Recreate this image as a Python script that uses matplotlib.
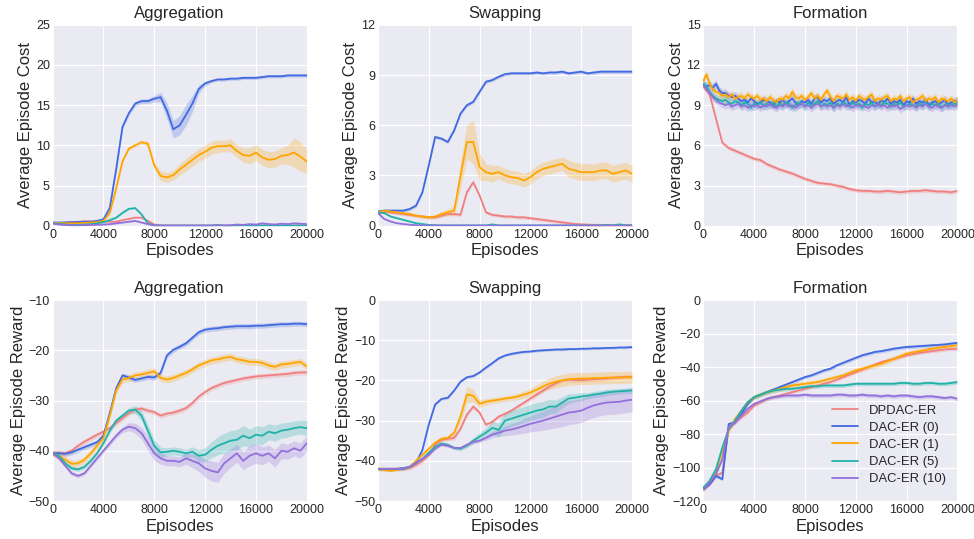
import numpy as np
import matplotlib
matplotlib.use('Agg')
from matplotlib import pyplot as plt

# episodes (x) for the coarse and the fine sampled curves
EP = np.arange(0, 20001, 500)
EP_FINE = np.arange(0, 20001, 250)

labels = ['DPDAC-ER', 'DAC-ER (0)', 'DAC-ER (1)', 'DAC-ER (5)', 'DAC-ER (10)']
colors = ['#F08080', '#4169E1', '#FFA500', '#20B2AA', '#9370DB']
titles = ['Aggregation', 'Swapping', 'Formation']

# ---- Aggregation cost
agg_cost_dpdac = [0.3, 0.35, 0.4, 0.45, 0.5, 0.55, 0.55, 0.5, 0.5, 0.5,
                  0.5, 0.7, 0.85, 1.0, 1.0, 0.6, 0.15, 0.05, 0.02, 0.02,
                  0.02, 0.02, 0.02, 0.02, 0.02, 0.02, 0.02, 0.02, 0.02, 0.02,
                  0.02, 0.02, 0.02, 0.02, 0.02, 0.02, 0.02, 0.02, 0.02, 0.02, 0.02]
agg_cost_dac0 = [0.4, 0.4, 0.4, 0.45, 0.45, 0.5, 0.5, 0.6, 0.8, 2.2,
                 7.0, 12.3, 14.0, 15.2, 15.5, 15.5, 15.8, 16.0, 14.3, 12.0,
                 12.5, 13.8, 15.2, 17.0, 17.7, 18.0, 18.2, 18.2, 18.3, 18.3,
                 18.4, 18.4, 18.4, 18.5, 18.6, 18.6, 18.6, 18.7, 18.7, 18.7, 18.7]
agg_cost_dac1 = [0.3, 0.35, 0.3, 0.3, 0.3, 0.35, 0.4, 0.45, 0.6, 1.6,
                 4.6, 8.0, 9.6, 10.0, 10.4, 10.2, 7.5, 6.2, 6.0, 6.3,
                 7.0, 7.6, 8.2, 8.8, 9.2, 9.7, 9.9, 9.9, 10.0, 9.3,
                 8.8, 8.7, 9.1, 8.5, 8.2, 8.3, 8.7, 8.8, 9.1, 8.6, 8.0]
agg_cost_dac5 = [0.3, 0.25, 0.15, 0.1, 0.1, 0.15, 0.2, 0.3, 0.45, 0.7,
                 1.0, 1.6, 2.1, 2.2, 1.4, 0.3, 0.05, 0.02, 0.02, 0.02,
                 0.02, 0.02, 0.02, 0.02, 0.02, 0.02, 0.1, 0.02, 0.02, 0.02,
                 0.02, 0.02, 0.02, 0.02, 0.02, 0.02, 0.02, 0.02, 0.02, 0.02, 0.02]
agg_cost_dac10 = [0.3, 0.15, 0.1, 0.05, 0.05, 0.08, 0.1, 0.12, 0.15, 0.2,
                  0.3, 0.4, 0.5, 0.6, 0.4, 0.2, 0.05, 0.02, 0.02, 0.02,
                  0.02, 0.02, 0.02, 0.02, 0.02, 0.02, 0.05, 0.02, 0.05, 0.15,
                  0.1, 0.2, 0.15, 0.3, 0.2, 0.15, 0.25, 0.2, 0.3, 0.25, 0.2]
agg_cost_band0 = [0.1, 0.1, 0.1, 0.1, 0.1, 0.1, 0.1, 0.1, 0.1, 0.2,
                  0.3, 0.3, 0.3, 0.3, 0.3, 0.3, 0.4, 0.6, 1.0, 1.1,
                  1.2, 1.3, 1.0, 0.5, 0.3, 0.2, 0.2, 0.2, 0.2, 0.2,
                  0.2, 0.2, 0.2, 0.2, 0.2, 0.2, 0.2, 0.2, 0.2, 0.2, 0.2]
agg_cost_band1 = [0.1, 0.1, 0.1, 0.1, 0.1, 0.1, 0.1, 0.1, 0.1, 0.2,
                  0.2, 0.2, 0.2, 0.2, 0.2, 0.3, 0.4, 0.6, 0.6, 0.6,
                  0.7, 0.8, 0.8, 0.8, 0.8, 0.8, 0.8, 0.7, 0.8, 0.8,
                  0.9, 1.0, 1.0, 1.0, 1.0, 1.0, 1.0, 1.2, 1.8, 1.8, 1.5]

# ---- Swapping cost
swap_cost_dpdac = [0.75, 0.85, 0.8, 0.75, 0.7, 0.65, 0.6, 0.55, 0.5, 0.5,
                   0.6, 0.7, 0.7, 0.65, 2.0, 2.6, 1.8, 0.8, 0.65, 0.6,
                   0.55, 0.55, 0.5, 0.5, 0.45, 0.4, 0.35, 0.3, 0.25, 0.2,
                   0.15, 0.1, 0.08, 0.06, 0.05, 0.04, 0.03, 0.03, 0.02, 0.02, 0.02]
swap_cost_dac0 = [0.85, 0.9, 0.9, 0.9, 0.9, 1.0, 1.2, 2.0, 3.6, 5.3,
                  5.2, 5.0, 5.7, 6.7, 7.2, 7.4, 8.0, 8.6, 8.7, 8.9,
                  9.05, 9.1, 9.1, 9.1, 9.1, 9.15, 9.1, 9.15, 9.15, 9.2,
                  9.1, 9.15, 9.2, 9.1, 9.15, 9.2, 9.2, 9.2, 9.2, 9.2, 9.2]
swap_cost_dac1 = [0.8, 0.9, 0.85, 0.8, 0.75, 0.7, 0.6, 0.55, 0.5, 0.55,
                  0.7, 0.8, 0.9, 3.0, 5.0, 5.0, 3.5, 3.2, 3.1, 3.2,
                  3.0, 2.9, 2.85, 2.7, 2.9, 3.2, 3.4, 3.5, 3.6, 3.7,
                  3.4, 3.3, 3.2, 3.2, 3.2, 3.3, 3.3, 3.1, 3.2, 3.3, 3.1]
swap_cost_dac5 = [0.8, 0.75, 0.55, 0.45, 0.35, 0.25, 0.15, 0.1, 0.05, 0.03,
                  0.02, 0.02, 0.02, 0.02, 0.02, 0.02, 0.02, 0.02, 0.08, 0.02,
                  0.02, 0.02, 0.02, 0.02, 0.02, 0.02, 0.02, 0.02, 0.02, 0.02,
                  0.02, 0.02, 0.02, 0.02, 0.02, 0.02, 0.05, 0.02, 0.08, 0.03, 0.03]
swap_cost_dac10 = [0.75, 0.4, 0.25, 0.15, 0.1, 0.06, 0.03, 0.02, 0.01, 0.01,
                   0.01, 0.01, 0.01, 0.01, 0.01, 0.01, 0.01, 0.01, 0.01, 0.01,
                   0.01, 0.01, 0.01, 0.01, 0.01, 0.01, 0.01, 0.01, 0.01, 0.01,
                   0.01, 0.01, 0.01, 0.01, 0.01, 0.01, 0.01, 0.01, 0.01, 0.01, 0.01]
swap_cost_band1 = [0.1, 0.1, 0.1, 0.1, 0.1, 0.1, 0.1, 0.1, 0.1, 0.1,
                   0.15, 0.2, 0.3, 0.8, 1.0, 1.3, 0.8, 0.5, 0.5, 0.4,
                   0.4, 0.4, 0.4, 0.4, 0.4, 0.4, 0.4, 0.4, 0.4, 0.4,
                   0.5, 0.5, 0.5, 0.5, 0.5, 0.5, 0.5, 0.5, 0.5, 0.5, 0.5]

# ---- Formation cost (dac curves are sampled finer, they are very noisy)
form_cost_dpdac = [10.4, 9.8, 8.0, 6.2, 5.8, 5.6, 5.4, 5.2, 5.0, 4.9,
                   4.6, 4.4, 4.2, 4.05, 3.9, 3.7, 3.5, 3.35, 3.2, 3.15,
                   3.1, 3.0, 2.9, 2.75, 2.65, 2.6, 2.6, 2.55, 2.55, 2.6,
                   2.55, 2.5, 2.55, 2.6, 2.6, 2.65, 2.6, 2.55, 2.55, 2.5, 2.6]
form_cost_dac0 = [10.5, 10.4, 10.5, 10.3, 10.6, 10.1, 9.9, 9.9, 9.7, 9.6,
                  9.7, 9.5, 9.3, 9.4, 9.2, 9.5, 9.3, 9.1, 9.2, 9.4,
                  9.3, 9.2, 9.0, 9.3, 9.2, 9.4, 9.1, 9.3, 9.5, 9.2,
                  9.0, 9.3, 9.2, 9.4, 9.1, 9.5, 9.6, 9.2, 9.4, 9.3,
                  9.5, 9.1, 9.3, 9.4, 9.2, 9.6, 9.0, 9.3, 9.2, 9.4,
                  9.3, 9.1, 9.5, 9.2, 9.3, 9.0, 9.4, 9.2, 9.5, 9.1,
                  9.3, 9.2, 9.4, 9.0, 9.3, 9.2, 9.5, 9.1, 9.3, 9.2,
                  9.4, 9.0, 9.2, 9.3, 9.1, 9.2, 9.4, 9.0, 9.2, 9.3, 9.3]
form_cost_dac1 = [10.8, 11.3, 10.6, 10.2, 10.0, 9.9, 9.7, 9.8, 9.6, 9.8,
                  9.5, 9.6, 9.7, 9.5, 9.8, 9.6, 9.5, 9.7, 9.4, 9.5,
                  9.3, 9.6, 9.4, 9.2, 9.5, 9.4, 9.7, 9.5, 10.0, 9.6,
                  9.5, 9.7, 9.4, 9.6, 9.9, 9.5, 9.7, 9.4, 9.8, 10.1,
                  9.6, 9.3, 9.7, 9.6, 9.5, 9.8, 9.4, 9.6, 9.3, 9.7,
                  9.5, 9.4, 9.6, 9.8, 9.3, 9.5, 9.4, 9.6, 9.7, 9.3,
                  9.5, 9.4, 9.7, 9.3, 9.5, 9.6, 9.2, 9.4, 9.5, 9.7,
                  9.3, 9.5, 9.4, 9.6, 9.2, 9.5, 9.4, 9.3, 9.5, 9.2, 9.4]
form_cost_dac5 = [10.6, 10.4, 10.0, 9.7, 9.5, 9.4, 9.3, 9.4, 9.2, 9.1,
                  9.3, 9.2, 9.0, 9.2, 9.1, 8.8, 9.1, 9.0, 9.2, 8.9,
                  9.1, 9.0, 9.2, 8.9, 9.1, 9.0, 9.2, 9.1, 8.8, 9.0,
                  9.2, 9.1, 8.9, 9.2, 9.0, 9.1, 9.3, 8.9, 9.1, 9.0,
                  9.2, 8.8, 9.1, 9.0, 9.2, 9.1, 8.9, 9.2, 9.0, 9.1,
                  8.8, 9.1, 9.0, 9.2, 8.9, 9.1, 9.0, 9.2, 9.1, 8.9,
                  9.1, 9.0, 9.2, 8.9, 9.0, 9.1, 9.0, 8.9, 9.1, 9.0,
                  9.2, 8.9, 9.1, 9.0, 9.1, 8.8, 9.0, 9.1, 9.0, 9.1, 9.1]
form_cost_dac10 = [10.5, 10.2, 9.9, 9.6, 9.4, 9.2, 9.1, 9.0, 9.1, 8.9,
                   9.0, 9.1, 8.9, 9.0, 8.8, 9.0, 8.9, 9.0, 8.8, 9.0,
                   8.9, 9.1, 8.9, 8.8, 9.0, 8.9, 9.1, 8.9, 9.0, 8.8,
                   9.0, 9.1, 8.9, 9.0, 8.8, 9.0, 9.1, 8.9, 9.0, 8.9,
                   9.0, 8.8, 9.0, 8.9, 9.1, 8.9, 9.0, 8.8, 9.0, 8.9,
                   9.0, 8.9, 8.8, 9.0, 8.9, 9.1, 8.9, 9.0, 8.8, 9.0,
                   8.9, 9.0, 8.7, 8.9, 9.0, 8.9, 9.0, 8.8, 9.0, 8.9,
                   9.1, 8.9, 8.8, 9.0, 8.9, 8.8, 9.0, 8.9, 9.0, 8.9, 9.0]

# ---- Aggregation reward
agg_rew_dpdac = [-40.5, -40.4, -40.5, -40, -39, -38.2, -37.5, -36.8, -36.2, -35.5,
                 -34.5, -33.5, -32.5, -31.8, -31.6, -32, -32.3, -33, -32.6, -32.4,
                 -32, -31.5, -30.5, -29.2, -28.3, -27.5, -27, -26.5, -26.2, -25.9,
                 -25.6, -25.4, -25.2, -25.1, -25, -24.9, -24.8, -24.7, -24.5, -24.4, -24.4]
agg_rew_dac0 = [-40.5, -40.5, -40.6, -40.3, -39.8, -39.3, -38.8, -38.3, -37.0, -32.5,
                -27.6, -25.0, -25.4, -25.9, -25.6, -25.3, -25.4, -24.5, -21.0, -19.9,
                -19.3, -18.6, -17.5, -16.4, -15.9, -15.7, -15.6, -15.4, -15.3, -15.2,
                -15.2, -15.2, -15.1, -15.1, -15.0, -14.9, -14.8, -14.8, -14.7, -14.7, -14.8]
agg_rew_dac1 = [-40.5, -41, -41.8, -42.6, -42.5, -41.8, -40.5, -39, -37.5, -33,
                -28, -25.8, -25.5, -25, -24.8, -24.5, -24.2, -25.5, -25.8, -25.5,
                -25, -24.5, -23.8, -23, -22.5, -22, -21.8, -21.5, -21.3, -21.8,
                -22, -22.3, -22.3, -22.5, -23, -23.3, -22.8, -22.7, -22.5, -22.3, -23.2]
agg_rew_dac5 = [-40.5, -41, -42.5, -43.5, -43.7, -43.2, -42, -40.5, -38.5, -36,
                -34, -33, -32, -31.8, -33, -36, -39, -40.3, -40.2, -40,
                -40.2, -40.5, -40.2, -41, -40.8, -39.8, -39, -38.5, -38, -37.8,
                -37, -37.5, -36.8, -37, -36.2, -36.5, -36, -35.8, -35.5, -35.3, -35.5]
agg_rew_dac10 = [-40.5, -41.5, -43, -44.5, -45, -44.5, -43, -41.5, -40, -38.5,
                 -37, -35.8, -35.2, -35.5, -36.5, -38.5, -40.5, -41.5, -42, -42,
                 -42.2, -41.5, -42, -42.5, -43.5, -44, -44.3, -42.5, -41.5, -40.5,
                 -42, -41, -40.5, -41, -40.5, -41.5, -40, -40.2, -39.5, -40, -38.5]
agg_rew_band5 = [0.3, 0.3, 0.4, 0.4, 0.4, 0.4, 0.4, 0.4, 0.4, 0.5,
                 0.5, 0.5, 0.6, 0.8, 1.0, 1.2, 1.2, 1.0, 0.8, 0.8,
                 0.8, 0.8, 1.0, 1.2, 1.4, 1.6, 1.8, 2.0, 2.0, 2.0,
                 2.0, 1.8, 1.8, 1.8, 1.6, 1.6, 1.5, 1.5, 1.4, 1.4, 1.5]
agg_rew_band10 = [0.3, 0.3, 0.4, 0.4, 0.4, 0.4, 0.4, 0.4, 0.4, 0.5,
                  0.5, 0.6, 0.8, 1.0, 1.2, 1.4, 1.4, 1.2, 1.0, 1.0,
                  1.0, 1.2, 1.4, 1.6, 1.8, 2.0, 2.0, 2.0, 1.8, 1.8,
                  1.8, 2.0, 2.0, 1.8, 1.6, 1.8, 1.6, 1.5, 1.5, 1.5, 1.5]

# ---- Swapping reward
swap_rew_dpdac = [-42, -42, -42, -42, -42, -41.8, -41, -40, -38.5, -36,
                  -34.8, -34.5, -34.3, -32, -28.5, -26.5, -28, -31, -30.3, -29,
                  -28.3, -27.5, -26.5, -25.5, -24.5, -23.5, -22.5, -21.5, -20.7, -20,
                  -19.8, -19.9, -19.9, -19.8, -19.7, -19.6, -19.5, -19.3, -19.2, -19.1, -19.1]
swap_rew_dac0 = [-42, -42.1, -42.2, -42, -41.8, -41.5, -40.5, -37.3, -31, -26,
                 -24.6, -24.3, -22.5, -20.3, -19.2, -18.9, -18, -16.8, -15.7, -14.5,
                 -13.8, -13.4, -13.1, -12.9, -12.8, -12.6, -12.5, -12.4, -12.3, -12.3,
                 -12.2, -12.2, -12.1, -12.1, -12.0, -12.0, -11.9, -11.9, -11.8, -11.8, -11.7]
swap_rew_dac1 = [-42, -42.3, -42.5, -42.2, -42, -41.5, -40, -38.5, -37, -35.5,
                 -34.5, -34.3, -33, -29, -23.5, -23.8, -25.8, -25.3, -25, -24.8,
                 -24.5, -24.3, -24, -23.5, -23, -22.3, -21.5, -20.8, -20.3, -20,
                 -19.7, -19.6, -19.5, -19.5, -19.4, -19.4, -19.3, -19.3, -19.3, -19.2, -19.2]
swap_rew_dac5 = [-42, -42, -42, -42, -42, -41.5, -40.5, -39.5, -38, -36.5,
                 -35.7, -36, -36.8, -37, -36.2, -35, -34, -33, -31.8, -32.3,
                 -30, -29.5, -29, -28.5, -28, -27.5, -27.2, -26.5, -26.5, -25.5,
                 -24.5, -24.3, -24, -23.8, -23.5, -23.3, -23, -22.8, -22.7, -22.6, -22.5]
swap_rew_dac10 = [-42, -42, -42, -42, -42, -41.5, -40.5, -39.5, -38.5, -37,
                  -36, -36.3, -36.8, -36.8, -36, -35.3, -35, -34.3, -33.5, -33,
                  -32.5, -32.2, -31.8, -31.3, -30.8, -30.4, -30, -29.5, -29, -28.5,
                  -28, -27.8, -27.5, -26.8, -26.2, -25.8, -25.5, -25.4, -25.3, -25, -24.8]
swap_rew_band1 = [0.3, 0.3, 0.3, 0.3, 0.3, 0.3, 0.3, 0.4, 0.5, 0.5,
                  0.5, 0.6, 0.8, 1.5, 2.0, 1.5, 1.0, 0.8, 0.7, 0.7,
                  0.7, 0.7, 0.8, 0.9, 1.0, 1.2, 1.3, 1.4, 1.5, 1.5,
                  1.5, 1.5, 1.5, 1.5, 1.5, 1.5, 1.5, 1.5, 1.5, 1.5, 1.5]
swap_rew_band5 = [0.3, 0.3, 0.3, 0.3, 0.3, 0.3, 0.3, 0.3, 0.3, 0.4,
                  0.4, 0.4, 0.5, 0.5, 0.6, 0.8, 1.0, 1.2, 1.5, 1.8,
                  2.0, 2.0, 2.0, 2.0, 2.0, 2.0, 2.0, 1.8, 1.6, 1.4,
                  1.2, 1.0, 1.0, 0.8, 0.8, 0.8, 0.8, 0.7, 0.7, 0.7, 0.7]
swap_rew_band10 = [0.3, 0.3, 0.3, 0.3, 0.3, 0.3, 0.3, 0.3, 0.3, 0.3,
                   0.3, 0.3, 0.3, 0.3, 0.4, 0.4, 0.5, 0.6, 0.8, 1.0,
                   1.2, 1.4, 1.6, 1.8, 2.0, 2.2, 2.4, 2.6, 2.8, 3.0,
                   3.0, 3.0, 3.0, 3.0, 3.0, 3.0, 3.0, 3.0, 3.0, 3.0, 3.0]

# ---- Formation reward
form_rew_dpdac = [-113, -110, -105, -103, -77, -73, -70, -67, -63, -61,
                  -59, -58, -57, -56, -55, -54, -53, -52, -51, -50,
                  -49, -47.5, -46, -44.5, -43, -41.5, -40, -38.5, -37, -36,
                  -35, -34, -33, -32.2, -31.5, -31, -30.5, -30, -29.5, -29.2, -29]
form_rew_dac0 = [-113, -110, -105, -107, -74, -73, -68, -62, -58, -56.5,
                 -55, -53.5, -52, -50.5, -49, -47.5, -46, -45, -43.5, -42,
                 -41, -39, -37.5, -36, -34.5, -33, -32, -31, -30.5, -29.8,
                 -29, -28.5, -28, -27.8, -27.5, -27.3, -27, -26.8, -26.5, -26, -25.5]
form_rew_dac1 = [-113, -108, -102, -90, -78, -71, -66, -61, -58, -56.5,
                 -55, -54, -53, -52, -51, -50.5, -50, -49.5, -49, -48,
                 -47, -46, -45, -43.5, -42, -41, -40, -39, -38, -36.5,
                 -35, -33.5, -32, -31.2, -30.5, -29.8, -29, -28.5, -28, -27.5, -27]
form_rew_dac5 = [-112, -108, -101, -88, -77, -72, -66, -61, -58, -56.5,
                 -55, -54, -53.5, -53, -53, -52.5, -52, -51.5, -51.5, -51,
                 -51, -51, -51, -50.5, -50, -50, -50, -50, -50, -50,
                 -50, -49.5, -49.5, -50, -50, -49.5, -49.5, -50, -50, -49.5, -49]
form_rew_dac10 = [-113, -109, -104, -95, -76, -73, -69, -65, -62, -60.5,
                  -59, -58, -57.5, -57, -57, -57, -56.5, -57, -57, -57,
                  -57, -56.5, -56.5, -57, -57, -56.5, -57, -57, -57.5, -57,
                  -57.5, -57, -57, -57.5, -58, -57.5, -57.5, -58, -58.5, -58, -59]

# ylims / yticks per panel
cost_ylim = [(0, 25), (0, 12), (0, 15)]
cost_yticks = [[0, 5, 10, 15, 20, 25], [0, 3, 6, 9, 12], [0, 3, 6, 9, 12, 15]]
rew_ylim = [(-50, -10), (-50, 0), (-120, 0)]
rew_yticks = [[-50, -40, -30, -20, -10], [-50, -40, -30, -20, -10, 0],
              [-120, -100, -80, -60, -40, -20, 0]]


def draw(ax, x, y, color, label, band=None):
    x = np.asarray(x)
    y = np.asarray(y, dtype=float)
    if band is not None:
        b = np.asarray(band, dtype=float)
        ax.fill_between(x, y - b, y + b, color=color, alpha=0.25, lw=0)
    ax.plot(x, y, color=color, lw=1.3, label=label)


plt.style.use('seaborn-v0_8-darkgrid')
plt.rcParams['font.family'] = ['Liberation Sans', 'DejaVu Sans']
plt.rcParams['text.color'] = '#262626'
plt.rcParams['axes.labelcolor'] = '#262626'
plt.rcParams['xtick.color'] = '#262626'
plt.rcParams['ytick.color'] = '#262626'

fig, axes = plt.subplots(2, 3, figsize=(9.74, 5.39), dpi=100)
fig.subplots_adjust(left=0.054, right=0.983, top=0.954, bottom=0.0705,
                    hspace=0.37, wspace=0.28)

cost = [
    [(EP, agg_cost_dpdac, None), (EP, agg_cost_dac0, agg_cost_band0), (EP, agg_cost_dac1, agg_cost_band1),
     (EP, agg_cost_dac5, 0.1), (EP, agg_cost_dac10, 0.08)],
    [(EP, swap_cost_dpdac, 0.1), (EP, swap_cost_dac0, 0.1), (EP, swap_cost_dac1, swap_cost_band1),
     (EP, swap_cost_dac5, 0.03), (EP, swap_cost_dac10, 0.02)],
    [(EP, form_cost_dpdac, 0.15), (EP_FINE, form_cost_dac0, 0.3), (EP_FINE, form_cost_dac1, 0.3),
     (EP_FINE, form_cost_dac5, 0.3), (EP_FINE, form_cost_dac10, 0.3)],
]
reward = [
    [(EP, agg_rew_dpdac, 0.5), (EP, agg_rew_dac0, 0.5), (EP, agg_rew_dac1, 0.7),
     (EP, agg_rew_dac5, agg_rew_band5), (EP, agg_rew_dac10, agg_rew_band10)],
    [(EP, swap_rew_dpdac, 0.5), (EP, swap_rew_dac0, 0.3), (EP, swap_rew_dac1, swap_rew_band1),
     (EP, swap_rew_dac5, swap_rew_band5), (EP, swap_rew_dac10, swap_rew_band10)],
    [(EP, form_rew_dpdac, 1.0), (EP, form_rew_dac0, 1.0), (EP, form_rew_dac1, 1.5),
     (EP, form_rew_dac5, 1.2), (EP, form_rew_dac10, 1.2)],
]

for col in range(3):
    for row, data, ylim, yt, ylab in [(0, cost, cost_ylim, cost_yticks, 'Average Episode Cost'),
                                      (1, reward, rew_ylim, rew_yticks, 'Average Episode Reward')]:
        ax = axes[row, col]
        for (x, y, b), c, lab in zip(data[col], colors, labels):
            draw(ax, x, y, c, lab, b)
        ax.set_xlim(0, 20000)
        ax.set_xticks([0, 4000, 8000, 12000, 16000, 20000])
        ax.set_ylim(*ylim[col])
        ax.set_yticks(yt[col])
        ax.tick_params(labelsize=9, pad=2)
        ax.set_title(titles[col], fontsize=12, pad=5)
        ax.set_xlabel('Episodes', fontsize=12, labelpad=2)
        ax.set_ylabel(ylab, fontsize=12, labelpad=2)

axes[1, 2].legend(loc='lower right', fontsize=9.4, frameon=False,
                  labelspacing=0.38, bbox_to_anchor=(1.0, 0.02))

fig.savefig('out.png', dpi=100)
